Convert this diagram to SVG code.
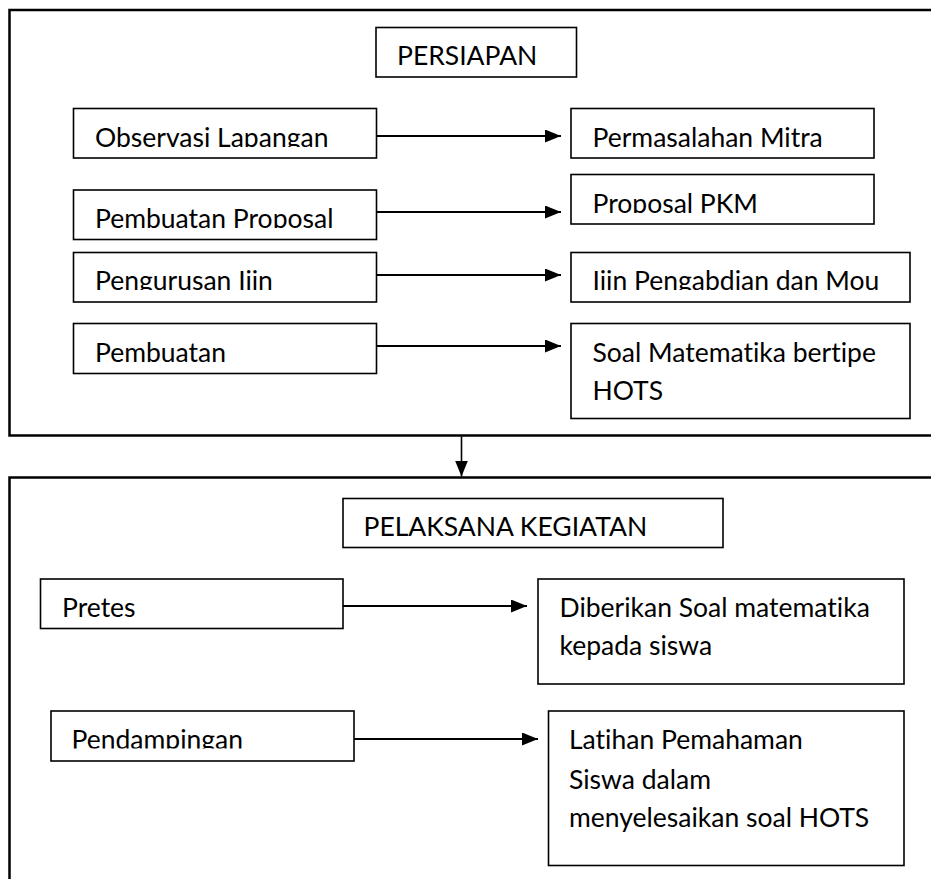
<svg xmlns="http://www.w3.org/2000/svg" width="931" height="879" viewBox="0 0 931 879">
<style>
.frame{fill:none;stroke:#000;stroke-width:2.5}
.box{fill:#fff;stroke:#000;stroke-width:1.6}
.t{font-family:Lato,"Open Sans","Liberation Sans",sans-serif;font-size:26.5px;fill:#000;font-variant-ligatures:none}
.c{fill:none;stroke:#000;stroke-width:2.2}
.c2{fill:none;stroke:#000;stroke-width:1.6}
</style>
<defs>
<marker id="ah" markerUnits="userSpaceOnUse" markerWidth="16" markerHeight="13" refX="16" refY="6.5" orient="auto" viewBox="0 0 16 13"><path d="M0,0 L16,6.5 L0,13 z" fill="#000"/></marker>
<clipPath id="k1"><rect x="74" y="109" width="302" height="38"/></clipPath>
<clipPath id="k2"><rect x="571" y="109" width="303" height="38"/></clipPath>
<clipPath id="k3"><rect x="74" y="190" width="302" height="38"/></clipPath>
<clipPath id="k4"><rect x="571" y="175" width="303" height="38"/></clipPath>
<clipPath id="k5"><rect x="74" y="253" width="302" height="37"/></clipPath>
<clipPath id="k6"><rect x="571" y="253" width="339" height="37"/></clipPath>
<clipPath id="k7"><rect x="51" y="711" width="303" height="37.5"/></clipPath>
</defs>
<rect width="931" height="879" fill="#fff"/>
<g id="persiapan-frame"><rect class="frame" x="9.5" y="10" width="940" height="425.5"/></g>
<g id="pelaksana-frame"><rect class="frame" x="9.5" y="477.5" width="940" height="420"/></g>
<g id="persiapan"><rect class="box" x="376" y="27.5" width="200.5" height="49.5"/><text class="t" x="397" y="65">PERSIAPAN</text></g>
<g id="observasi"><rect class="box" x="73.5" y="108.5" width="303" height="49.5"/><text class="t" x="95" y="147" clip-path="url(#k1)">Observasi Lapangan</text></g>
<g id="permasalahan"><rect class="box" x="571" y="108.5" width="303" height="49.5"/><text class="t" x="592.5" y="147" clip-path="url(#k2)">Permasalahan Mitra</text></g>
<g id="pembuatan-proposal"><rect class="box" x="73.5" y="190" width="303" height="49.5"/><text class="t" x="95" y="228" clip-path="url(#k3)">Pembuatan Proposal</text></g>
<g id="proposal-pkm"><rect class="box" x="571" y="174.5" width="303" height="49.5"/><text class="t" x="592.5" y="213" clip-path="url(#k4)">Proposal PKM</text></g>
<g id="pengurusan-ijin"><rect class="box" x="73.5" y="252.5" width="303" height="49.5"/><text class="t" x="95" y="290" clip-path="url(#k5)">Pengurusan Ijin</text></g>
<g id="ijin-pengabdian"><rect class="box" x="571" y="252.5" width="339" height="49.5"/><text class="t" x="592.5" y="290" clip-path="url(#k6)">Ijin Pengabdian dan Mou</text></g>
<g id="pembuatan"><rect class="box" x="73.5" y="323.5" width="303" height="50"/><text class="t" x="95" y="362">Pembuatan</text></g>
<g id="soal"><rect class="box" x="571" y="323.5" width="339" height="95"/><text class="t" x="592.5" y="362">Soal Matematika bertipe</text><text class="t" x="592.5" y="399.5">HOTS</text></g>
<g id="pelaksana"><rect class="box" x="343" y="498.5" width="380" height="49"/><text class="t" x="363.5" y="536">PELAKSANA KEGIATAN</text></g>
<g id="pretes"><rect class="box" x="40.5" y="579" width="302.5" height="49.5"/><text class="t" x="62" y="617">Pretes</text></g>
<g id="diberikan"><rect class="box" x="538" y="579" width="366" height="105"/><text class="t" x="559.5" y="617">Diberikan Soal matematika</text><text class="t" x="559.5" y="655">kepada siswa</text></g>
<g id="pendampingan"><rect class="box" x="51" y="711" width="303" height="50"/><text class="t" x="71.5" y="748.5" clip-path="url(#k7)">Pendampingan</text></g>
<g id="latihan"><rect class="box" x="548.5" y="711" width="355.5" height="154.5"/><text class="t" x="569" y="748.5">Latihan Pemahaman</text><text class="t" x="569" y="788.5">Siswa dalam</text><text class="t" x="569" y="827">menyelesaikan soal HOTS</text></g>
<g id="connectors">
<line class="c" x1="376.5" y1="136" x2="561" y2="136" marker-end="url(#ah)"/>
<line class="c" x1="376.5" y1="212" x2="561" y2="212" marker-end="url(#ah)"/>
<line class="c" x1="376.5" y1="275" x2="561" y2="275" marker-end="url(#ah)"/>
<line class="c" x1="376.5" y1="346" x2="561" y2="346" marker-end="url(#ah)"/>
<line class="c2" x1="461.5" y1="436.5" x2="461.5" y2="476.5" marker-end="url(#ah)"/>
<line class="c" x1="343" y1="606" x2="527" y2="606" marker-end="url(#ah)"/>
<line class="c" x1="354" y1="739" x2="538" y2="739" marker-end="url(#ah)"/>
</g>
</svg>
